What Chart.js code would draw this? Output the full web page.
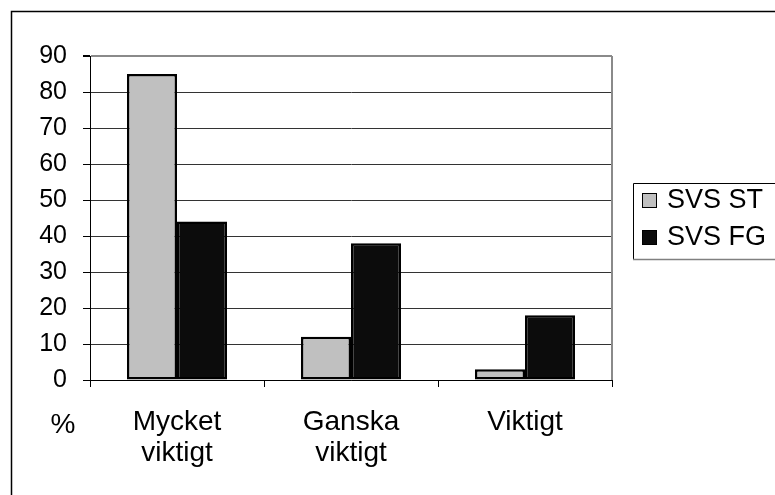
<!DOCTYPE html>
<html>
<head>
<meta charset="utf-8">
<script src="https://cdn.jsdelivr.net/npm/chart.js@4"></script>
<style>
  html, body { margin: 0; padding: 0; background: #fff; }
  #wrap { width: 775px; height: 495px; position: relative; }
</style>
</head>
<body>
<div id="wrap"><canvas id="chart" width="775" height="495"></canvas></div>
<script>
// Kategorier och värden (%)
const categories = [['Mycket', 'viktigt'], ['Ganska', 'viktigt'], 'Viktigt'];
const seriesNames = ['SVS ST', 'SVS FG'];
const svsST = [85, 12, 3];
const svsFG = [44, 38, 18];
const yTicks = [0, 10, 20, 30, 40, 50, 60, 70, 80, 90];

const FONT = 'Arial, "Liberation Sans", sans-serif';

// Ram, höger kant, "%" och förklaring
const decorPlugin = {
    id: 'decor',
    afterDraw(chart) {
        const ctx = chart.ctx;
        const area = chart.chartArea;
        ctx.save();

        // yttre ram (beskuren till höger och nederkant)
        ctx.strokeStyle = '#000';
        ctx.lineWidth = 1.5;
        ctx.beginPath();
        ctx.moveTo(11.5, 495);
        ctx.lineTo(11.5, 11.5);
        ctx.lineTo(775, 11.5);
        ctx.stroke();

        // höger kant av diagramytan
        ctx.strokeStyle = '#8a8a8a';
        ctx.lineWidth = 2;
        ctx.beginPath();
        ctx.moveTo(area.right, area.top);
        ctx.lineTo(area.right, area.bottom);
        ctx.stroke();

        // "%" under y-axeln
        ctx.fillStyle = '#000';
        ctx.font = '28px ' + FONT;
        ctx.textAlign = 'center';
        ctx.textBaseline = 'alphabetic';
        ctx.fillText('%', area.left - 27, 433);

        // förklaring
        const lx = 633, ly = 183, lh = 76;
        ctx.strokeStyle = '#000';
        ctx.lineWidth = 1;
        ctx.beginPath();
        ctx.moveTo(776, ly + 0.5);
        ctx.lineTo(lx + 0.5, ly + 0.5);
        ctx.lineTo(lx + 0.5, ly + lh + 0.5);
        ctx.stroke();
        ctx.strokeStyle = '#808080';
        ctx.lineWidth = 1.5;
        ctx.beginPath();
        ctx.moveTo(lx, ly + lh + 0.5);
        ctx.lineTo(776, ly + lh + 0.5);
        ctx.stroke();

        ctx.font = '27px ' + FONT;
        ctx.textAlign = 'left';
        ctx.textBaseline = 'middle';
        chart.data.datasets.forEach((ds, i) => {
            const cy = ly + 17 + i * 37;
            ctx.fillStyle = ds.backgroundColor;
            ctx.fillRect(642, cy - 7, 15, 15);
            ctx.strokeStyle = '#000';
            ctx.lineWidth = 1;
            ctx.strokeRect(642.5, cy - 6.5, 14, 14);
            ctx.fillStyle = '#000';
            ctx.fillText(ds.label, 667, cy + 1);
        });
        ctx.restore();
    }
};

new Chart(document.getElementById('chart'), {
    type: 'bar',
    data: {
        labels: categories,
        datasets: [
            {
                label: seriesNames[0],
                data: svsST,
                backgroundColor: '#c0c0c0',
                borderColor: '#000',
                borderWidth: 2.5,
                borderSkipped: false
            },
            {
                label: seriesNames[1],
                data: svsFG,
                backgroundColor: '#0c0c0c',
                borderColor: '#000',
                borderWidth: 2.5,
                borderSkipped: false
            }
        ]
    },
    options: {
        responsive: false,
        animation: false,
        categoryPercentage: 0.575,
        barPercentage: 1.0,
        layout: {
            padding: { left: 0, top: 56, right: 163, bottom: 0 }
        },
        plugins: {
            legend: { display: false },
            tooltip: { enabled: false }
        },
        scales: {
            y: {
                min: 0,
                max: 90,
                afterFit: function(scale) { scale.width = 90; },
                afterBuildTicks: function(scale) {
                    scale.ticks = yTicks.map(v => ({ value: v }));
                },
                grid: {
                    color: function(c) { return c.tick && c.tick.value === 90 ? '#8a8a8a' : '#333'; },
                    lineWidth: function(c) { return c.tick && c.tick.value === 90 ? 2 : 1; },
                    tickColor: '#000',
                    tickLength: 7,
                    drawTicks: true
                },
                border: { color: '#000', width: 1 },
                ticks: {
                    color: '#000',
                    padding: 16,
                    font: { family: FONT, size: 25 }
                }
            },
            x: {
                afterFit: function(scale) { scale.height = 115; },
                grid: {
                    offset: true,
                    drawOnChartArea: false,
                    drawTicks: true,
                    tickLength: 7,
                    tickColor: '#000'
                },
                border: { color: '#000', width: 1 },
                ticks: {
                    color: '#000',
                    padding: 20,
                    maxRotation: 0,
                    autoSkip: false,
                    font: { family: FONT, size: 28, lineHeight: 1.1 }
                }
            }
        }
    },
    plugins: [decorPlugin]
});
</script>
</body>
</html>
